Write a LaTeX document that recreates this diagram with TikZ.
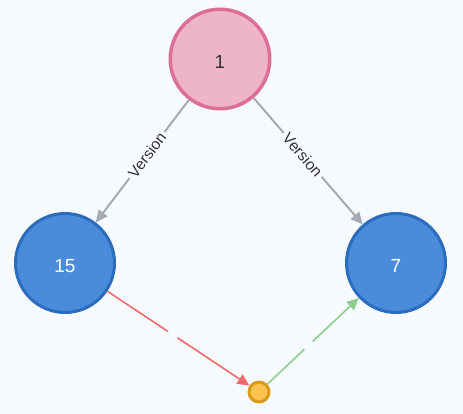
\documentclass[tikz,border=0pt]{standalone}
\usepackage{fontspec}
\setmainfont{Liberation Sans}
\usetikzlibrary{arrows.meta}
\definecolor{bg}{HTML}{F7FBFF}
\definecolor{pinkfill}{HTML}{EDB4CA}
\definecolor{pinkline}{HTML}{DB6F96}
\definecolor{bluefill}{HTML}{4A8CDB}
\definecolor{blueline}{HTML}{2C6CBF}
\definecolor{yelfill}{HTML}{FFC34D}
\definecolor{yelline}{HTML}{D99A14}
\definecolor{edgegray}{HTML}{A6AAB3}
\definecolor{redline}{HTML}{F06B6B}
\definecolor{greenline}{HTML}{8FCC8F}
\definecolor{txt}{HTML}{333333}
\tikzset{
  numtext/.style={font=\fontsize{19}{21}\selectfont, text height=19pt, text depth=0pt},
  pinknode/.style={circle, draw=pinkline, fill=pinkfill, line width=3.5pt, minimum size=99.5pt, inner sep=0pt, text=txt, numtext},
  bluenode/.style={circle, draw=blueline, fill=bluefill, line width=3pt, minimum size=99pt, inner sep=0pt, text=white, numtext},
  smallnode/.style={circle, draw=yelline, fill=yelfill, line width=3pt, minimum size=20pt, inner sep=0pt},
  versionedge/.style={draw=edgegray, line width=2pt, -{Triangle[length=12pt,width=11pt]}},
  rededge/.style={draw=redline, line width=1.6pt, -{Triangle[length=12pt,width=11pt]}},
  greenedge/.style={draw=greenline, line width=1.6pt, -{Triangle[length=12pt,width=11pt]}},
  edgelabel/.style={fill=bg, sloped, text=txt, font=\fontsize{15.5}{17}\selectfont, inner sep=3pt},
  gaplabel/.style={fill=bg, sloped, minimum width=11pt, minimum height=5pt, inner sep=0pt}
}
\begin{document}
\begin{tikzpicture}[x=1pt,y={(0pt,-1pt)}]
\fill[bg] (0,0) rectangle (463,414);
\useasboundingbox (0,0) rectangle (463,414);
\node[pinknode] (n1) at (220,59) {1};
\node[bluenode] (n15) at (65,263) {15};
\node[bluenode] (n7) at (396,263) {7};
\node[smallnode] (s) at (259,392) {};
\draw[versionedge] (n1) -- node[edgelabel, pos=0.45] (l1) {Version} (n15);
\draw[versionedge] (n1) -- node[edgelabel, pos=0.45] (l2) {Version} (n7);
\draw[rededge] (n15) -- node[gaplabel, pos=0.46] (g1) {} (s);
\draw[greenedge] (s) -- node[gaplabel, pos=0.45] (g2) {} (n7);
\end{tikzpicture}
\end{document}
